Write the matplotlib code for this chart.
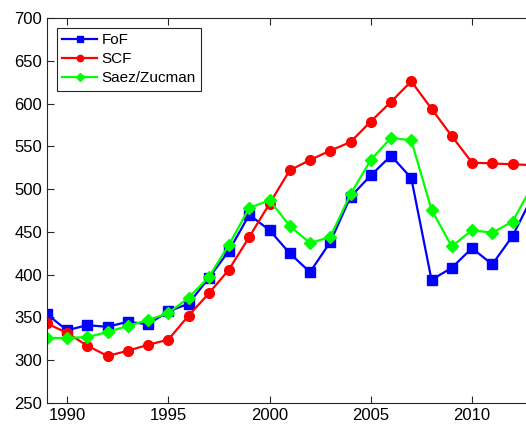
import matplotlib.pyplot as plt

years = list(range(1989, 2014))

fof = [354, 335, 341, 339, 345, 342, 357, 366, 396, 428, 470, 452, 425, 403, 438,
       491, 516, 539, 513, 394, 408, 431, 412, 445, 492]
scf = [343, 332, 317, 305, 311, 318, 324, 352, 378, 406, 444, 483, 522, 534, 545,
       555, 579, 602, 626, 594, 562, 531, 530, 529, 528]
saez = [326, 326, 327, 333, 340, 347, 355, 373, 397, 435, 478, 487, 457, 437, 444,
        494, 534, 560, 557, 476, 433, 452, 449, 462, 505]

plt.rcParams['font.family'] = ['Liberation Sans', 'DejaVu Sans']

fig = plt.figure(figsize=(5.26, 4.29), dpi=100)
ax = fig.add_axes([46.75 / 526, 26 / 429, (24 * 20.25) / 526, 385 / 429])

ax.plot(years, fof, color='#0000ff', lw=1.6, marker='s', ms=6.5, label='FoF')
ax.plot(years, scf, color='#ff0000', lw=1.6, marker='o', ms=7, label='SCF')
ax.plot(years, saez, color='#00ff00', lw=1.6, marker='D', ms=6.5, label='Saez/Zucman')

ax.set_xlim(1989, 2013)
ax.set_ylim(250, 700)
ax.set_xticks([1990, 1995, 2000, 2005, 2010])
ax.set_yticks(range(250, 701, 50))

axis_col = '#262626'
for s in ax.spines.values():
    s.set_color(axis_col)
    s.set_linewidth(0.8)
ax.tick_params(direction='in', top=True, right=True, colors=axis_col,
               labelsize=12, length=5, width=0.8, labelcolor='black')

leg = ax.legend(loc='upper left', fontsize=11, fancybox=False, framealpha=1,
                edgecolor=axis_col, borderpad=0.35, labelspacing=0.33,
                handlelength=2.3, handletextpad=0.25, markerscale=0.65,
                borderaxespad=0, bbox_to_anchor=(0.021, 0.974))
leg.get_frame().set_linewidth(0.8)

fig.savefig('out.png', dpi=100)
